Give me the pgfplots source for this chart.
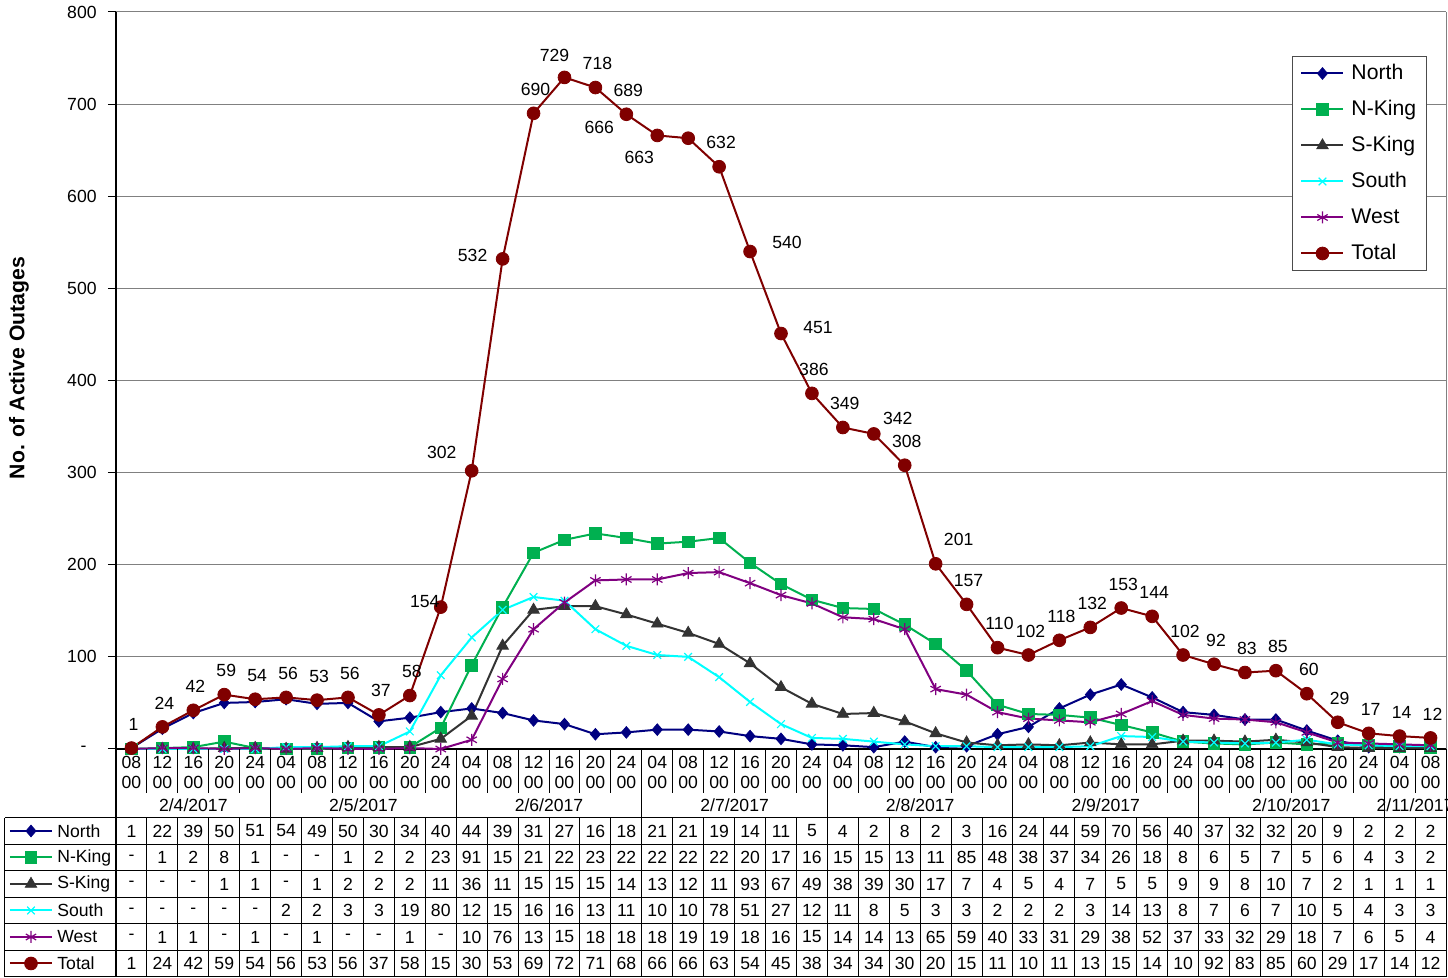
\documentclass[border=0pt]{standalone}
\usepackage{pgfplots}
\pgfplotsset{compat=1.18}
\usepackage{pgfplotstable}
\usepackage{fontspec}
\setmainfont{Liberation Sans}
\definecolor{cNorth}{RGB}{0,0,128}
\definecolor{cNK}{RGB}{0,176,80}
\definecolor{cSK}{RGB}{51,51,51}
\definecolor{cSouth}{RGB}{0,255,255}
\definecolor{cWest}{RGB}{128,0,128}
\definecolor{cTotal}{RGB}{128,0,0}
\definecolor{cGrid}{RGB}{128,128,128}
\newcommand\sfont{\fontsize{8.8}{10}\selectfont}
\newcommand\lfont{\fontsize{10.6}{12}\selectfont}
\newcommand\fmt[1]{\ifnum#1=0 -\else\ifnum#1>99 \number\numexpr(#1-5)/10\relax\else#1\fi\fi}
\tikzset{
 sNorth/.style={color=cNorth, line width=1pt, mark=diamond*, mark size=2.9pt, mark options={solid, fill=cNorth, line width=0.4pt, xscale=1.15}},
 sNK/.style={color=cNK, line width=1pt, mark=square*, mark size=2.9pt, mark options={solid, fill=cNK, line width=0.4pt}},
 sSK/.style={color=cSK, line width=1pt, mark=triangle*, mark size=3.3pt, mark options={solid, fill=cSK, line width=0.4pt}},
 sSouth/.style={color=cSouth, line width=1pt, mark=x, mark size=2.7pt, mark options={solid, line width=0.6pt}},
 sWest/.style={color=cWest, line width=1pt, mark=asterisk, mark size=3pt, mark options={solid, line width=0.6pt}},
 sTotal/.style={color=cTotal, line width=1pt, mark=*, mark size=3.2pt, mark options={solid, fill=cTotal, line width=0.4pt}},
}
\pgfplotstableread{
idx north nking sking south west total dx dy
0 1 0 0 0 0 1 1 12
1 22 1 0 0 1 24 1 12
2 39 2 0 0 1 42 1 12
3 50 8 1 0 0 59 1 12
4 51 1 1 0 1 54 1 12
5 54 0 0 2 0 56 1 12
6 49 0 1 2 1 53 1 12
7 50 1 2 3 0 56 1 12
8 30 2 2 3 0 37 1 12
9 34 2 2 19 1 58 1 12
10 40 23 11 80 0 154 -8 3
11 44 91 36 121 10 302 -15 9
12 39 154 112 151 76 532 -15 1.5
13 31 213 151 165 130 690 1 12
14 27 227 155 161 159 729 -5 11
15 16 234 155 130 183 718 1 12
16 18 229 146 112 184 689 1 12
17 21 223 136 102 184 666 -29 4
18 21 225 126 100 191 663 -24.5 -9.5
19 19 229 114 78 192 632 1 12
20 14 202 93 51 180 540 18.5 4.5
21 11 179 67 27 167 451 18.5 3
22 5 162 49 12 158 386 1 12
23 4 153 38 11 143 349 1 12
24 2 152 39 8 141 342 12 7.5
25 8 135 30 5 130 308 1 12
26 2 114 17 3 65 201 11.5 12
27 3 85 7 3 59 157 1 12
28 16 48 4 2 40 110 1 12
29 24 38 5 2 33 102 1 12
30 44 37 4 2 31 118 1 12
31 59 34 7 3 29 132 1 12
32 70 26 5 14 38 153 1 12
33 56 18 5 13 52 144 1 12
34 40 8 9 8 37 102 1 12
35 37 6 9 7 33 92 1 12
36 32 5 8 6 32 83 1 12
37 32 7 10 7 29 85 1 12
38 20 5 7 10 18 60 1 12
39 9 6 2 5 7 29 1 12
40 2 4 1 4 6 17 1 12
41 2 3 1 3 5 14 1 12
42 2 2 1 3 4 12 1 12
}\data
\begin{document}
\begin{tikzpicture}
\pgfmathsetmacro\cw{665/43}
\path[use as bounding box] (-58pt,-114.5pt) rectangle (666pt,374.5pt);
\begin{axis}[
  at={(0pt,0pt)}, anchor=south west,
  scale only axis, width=665pt, height=368.5pt,
  xmin=-0.5, xmax=42.5, ymin=0, ymax=800,
  clip=false,
  axis x line*=bottom, axis y line*=left,
  axis line style={black, line width=0.6pt},
  xtick=\empty,
  ytick={0,100,...,800},
  yticklabels={-\kern5pt,100,200,300,400,500,600,700,800},
  tick align=outside, major tick length=4pt,
  ytick style={black, line width=0.5pt},
  yticklabel style={font=\sfont, anchor=east, inner sep=0pt, xshift=-5.5pt},
  /pgf/number format/assume math mode=true,
  ymajorgrids, major grid style={cGrid, line width=0.5pt},
  ylabel={No. of Active Outages},
  every axis y label/.style={at={(axis description cs:-0.0729,0.517)}, rotate=90, anchor=center, font=\bfseries\lfont},
  legend style={at={(axis description cs:0.8842,0.9403)}, anchor=north west, draw=black!70, line width=0.5pt, font=\lfont, inner xsep=4pt, inner ysep=2.5pt, row sep=6pt, nodes={inner sep=1pt, text height=7.8pt, text depth=2.2pt}, /tikz/every odd column/.append style={column sep=2.5pt}},
  legend cell align=left,
  legend image code/.code={\draw[mark repeat=2, mark phase=2] plot coordinates {(0pt,0pt) (10.5pt,0pt) (21pt,0pt)};},
]
\addplot[sNorth] table[x=idx,y=north]{\data}; \addlegendentry{North}
\addplot[sNK] table[x=idx,y=nking]{\data}; \addlegendentry{N-King}
\addplot[sSK] table[x=idx,y=sking]{\data}; \addlegendentry{S-King}
\addplot[sSouth] table[x=idx,y=south]{\data}; \addlegendentry{South}
\addplot[sWest] table[x=idx,y=west]{\data}; \addlegendentry{West}
\addplot[sTotal, nodes near coords, point meta=y,
  visualization depends on={\thisrow{dx}\as\ddx},
  visualization depends on={\thisrow{dy}\as\ddy},
  nodes near coords align={anchor=center},
  every node near coord/.append style={anchor=center, text=black, font=\sfont, inner sep=0pt, xshift=\ddx pt, yshift=\ddy pt}
  ] table[x=idx,y=total]{\data}; \addlegendentry{Total}
\draw[cGrid, line width=0.5pt] (rel axis cs:1,0) -- (rel axis cs:1,1);
\end{axis}
% data table below the axis
\draw[line width=0.5pt] foreach \k in {1,...,42} {(\k*\cw pt,0pt) -- (\k*\cw pt,-22pt)};
\draw[line width=0.5pt] foreach \k in {5,11,17,23,29,35,41} {(\k*\cw pt,0pt) -- (\k*\cw pt,-34.5pt)};
\draw[line width=0.5pt] foreach \k in {1,...,42} {(\k*\cw pt,-34.5pt) -- (\k*\cw pt,-114pt)};
\draw[line width=0.6pt] (0pt,0pt) -- (0pt,-114pt);
\draw[line width=0.5pt] (665pt,0pt) -- (665pt,-114pt);
\draw[line width=0.5pt] (-55.5pt,-34.5pt) -- (-55.5pt,-114pt);
\draw[line width=0.5pt] foreach \yy in {-34.5,-47.75,-61,-74.25,-87.5,-100.75,-114} {(-55.5pt,\yy pt) -- (665pt,\yy pt)};
\foreach \i in {0,...,42}{
  \pgfmathtruncatemacro\h{mod(8+4*\i,24)}
  \ifnum\h=0 \def\h{24}\fi
  \node[font=\sfont, align=center, inner sep=0pt] at ({(\i+0.5)*\cw pt},-11.5pt) {\ifnum\h<10 0\fi\h\\00};
}
\foreach \c/\d in {2/{2/4},7.5/{2/5},13.5/{2/6},19.5/{2/7},25.5/{2/8},31.5/{2/9},37.5/{2/10},41.5/{2/11}}{
  \node[font=\sfont, inner sep=0pt] at ({(\c+0.5)*\cw pt},-28pt) {\d/2017};
}
\foreach \i in {0,...,42}{
  \foreach \col/\yy in {north/-41,nking/-54.25,sking/-67.5,south/-80.75,west/-94,total/-107.25}{
    \pgfplotstablegetelem{\i}{\col}\of\data
    \node[font=\sfont, inner sep=0pt] at ({(\i+0.5)*\cw pt},\yy pt) {\fmt{\pgfplotsretval}};
  }
}
\foreach \st/\nm/\yy in {sNorth/North/-41,sNK/N-King/-54.25,sSK/S-King/-67.5,sSouth/South/-80.75,sWest/West/-94,sTotal/Total/-107.25}{
  \draw[\st, mark repeat=2, mark phase=2] plot coordinates {(-53pt,\yy pt) (-42.5pt,\yy pt) (-32pt,\yy pt)};
  \node[font=\sfont, anchor=west, inner sep=0pt] at (-29.5pt,\yy pt) {\nm};
}
\end{tikzpicture}
\end{document}
